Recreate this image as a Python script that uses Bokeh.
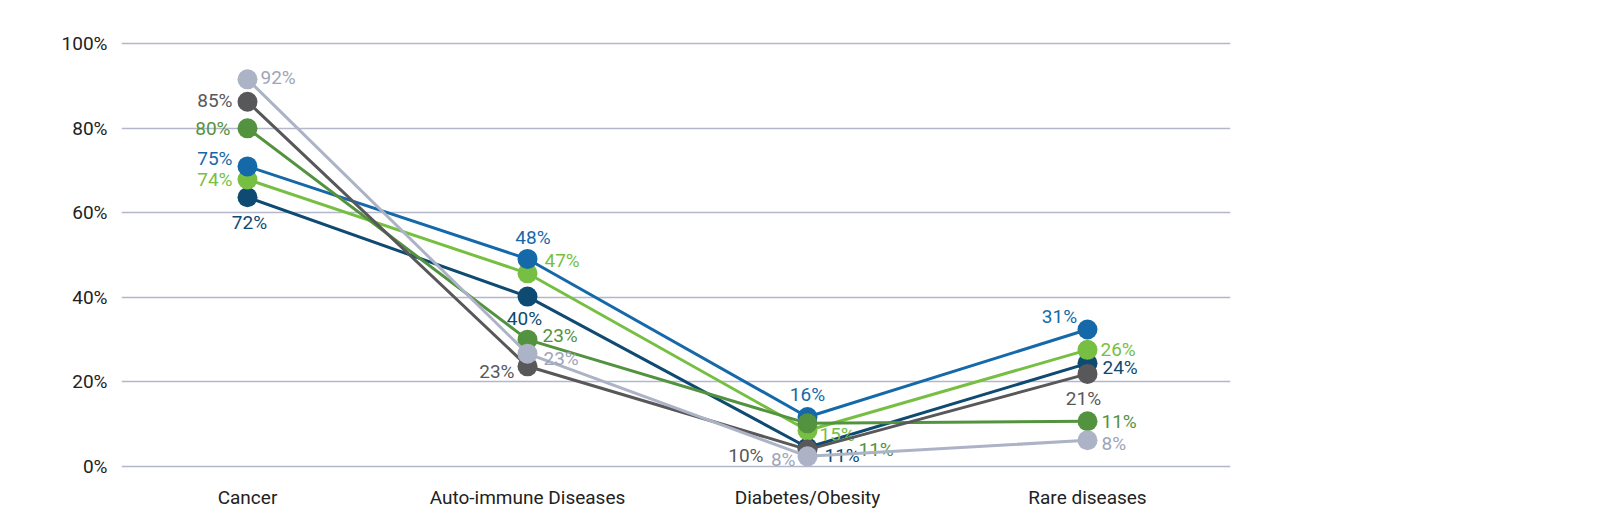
from bokeh.plotting import figure
from bokeh.models import ColumnDataSource, FixedTicker, Range1d
from bokeh.embed import file_html
from bokeh.resources import INLINE
from bokeh.core.properties import value

categories = ["Cancer", "Auto-immune Diseases", "Diabetes/Obesity", "Rare diseases"]
y_ticks = [0, 20, 40, 60, 80, 100]
y_tick_labels = ["0%", "20%", "40%", "60%", "80%", "100%"]

# plotted positions (percent)
blue_vals = [71.0, 49.1, 11.7, 32.4]
lgreen_vals = [67.9, 45.7, 8.5, 27.6]
navy_vals = [63.7, 40.2, 4.5, 24.4]
dgreen_vals = [80.0, 30.0, 10.2, 10.7]
dgrey_vals = [86.3, 23.7, 4.0, 21.9]
lgrey_vals = [91.6, 26.7, 2.4, 6.2]

# printed labels
blue_labels = ["75%", "48%", "16%", "31%"]
lgreen_labels = ["74%", "47%", "15%", "26%"]
navy_labels = ["72%", "40%", "11%", "24%"]
dgreen_labels = ["80%", "23%", "11%", "11%"]
dgrey_labels = ["85%", "23%", "10%", "21%"]
lgrey_labels = ["92%", "23%", "8%", "8%"]

FONT = "Roboto"
FS = "19px"

# styling: label placement (dx, dy in px, align)
series = [
    dict(vals=navy_vals, labels=navy_labels, color="#0e4a71", tcolor="#0e4a71",
         off=[(2, 25.6, "center"), (-3, 21.6, "center"), (17, 8, "left"), (15, 4.4, "left")]),
    dict(vals=lgreen_vals, labels=lgreen_labels, color="#77bf43", tcolor="#77bf43",
         off=[(-15, 0, "right"), (17, -12.8, "left"), (12, 4, "left"), (13, 0, "left")]),
    dict(vals=blue_vals, labels=blue_labels, color="#1569a8", tcolor="#1569a8",
         off=[(-15, -7.6, "right"), (5.5, -21.8, "center"), (0, -23, "center"), (-28, -13.3, "center")]),
    dict(vals=dgreen_vals, labels=dgreen_labels, color="#53933f", tcolor="#53933f",
         off=[(-17, 0, "right"), (15, -4, "left"), (51, 26.4, "left"), (14, 0, "left")]),
    dict(vals=dgrey_vals, labels=dgrey_labels, color="#58585b", tcolor="#58585b",
         off=[(-15, -1, "right"), (-13, 5, "right"), (-44, 6, "right"), (-4, 25, "center")]),
    dict(vals=lgrey_vals, labels=lgrey_labels, color="#adb3c6", tcolor="#9ea4b8",
         off=[(13, -1.5, "left"), (16, 5, "left"), (-12, 3.4, "right"), (14, 3.5, "left")]),
]

p = figure(width=1600, height=520, output_backend="svg", toolbar_location=None,
           x_range=Range1d(-0.45, 3.5107), y_range=Range1d(-3.08, 102.91),
           min_border_left=121, min_border_right=370, min_border_top=31, min_border_bottom=41)
p.outline_line_color = None
p.background_fill_color = "white"
p.border_fill_color = "white"

xs = list(range(len(categories)))

for s in series:
    src = ColumnDataSource(dict(
        x=xs, y=s["vals"], t=s["labels"],
        dx=[o[0] for o in s["off"]], dy=[o[1] for o in s["off"]],
        al=[o[2] for o in s["off"]]))
    p.line("x", "y", source=src, line_color=s["color"], line_width=3)
    p.scatter("x", "y", source=src, size=20, fill_color=s["color"], line_color=s["color"], line_width=0)
    p.text("x", "y", text="t", source=src, x_offset="dx", y_offset="dy", text_align="al",
           text_baseline="middle", text_color=s["tcolor"], text_font=value(FONT), text_font_size=FS)

p.xgrid.grid_line_color = None
p.ygrid.ticker = FixedTicker(ticks=y_ticks)
p.ygrid.grid_line_color = "#b4b7c9"
p.ygrid.grid_line_width = 1.5

p.yaxis.ticker = FixedTicker(ticks=y_ticks)
p.yaxis.major_label_overrides = {t: l for t, l in zip(y_ticks, y_tick_labels)}
p.xaxis.ticker = FixedTicker(ticks=xs)
p.xaxis.major_label_overrides = {i: c for i, c in zip(xs, categories)}

for ax in (p.xaxis, p.yaxis):
    ax.axis_line_color = None
    ax.major_tick_line_color = None
    ax.minor_tick_line_color = None
    ax.major_tick_out = 0
    ax.major_tick_in = 0
    ax.minor_tick_out = 0
    ax.major_label_text_font = FONT
    ax.major_label_text_font_size = FS
    ax.major_label_text_color = "#222222"
p.yaxis.major_label_standoff = 14
p.xaxis.major_label_standoff = 6

open("out.html", "w").write(file_html(p, INLINE))
